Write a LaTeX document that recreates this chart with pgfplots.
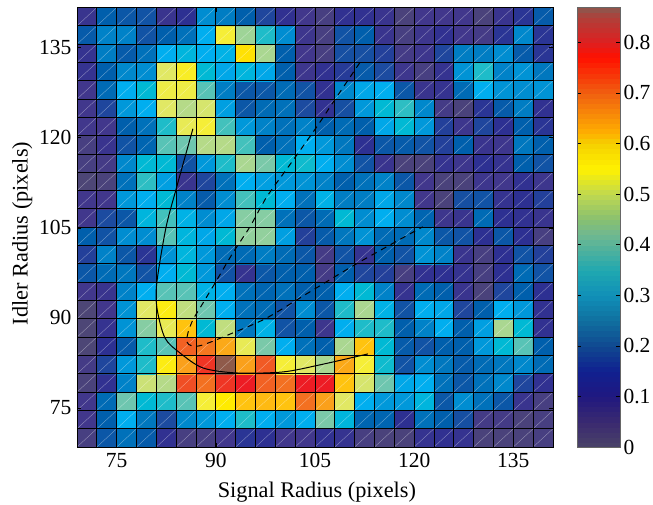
\documentclass[border=0pt]{standalone}
\usepackage{fontspec}
\setmainfont{Liberation Serif}
\usepackage{pgfplots}
\pgfplotsset{compat=1.18}
\pgfplotsset{colormap={cells}{
rgb255(0pt)=(80,74,112) rgb255(5pt)=(65,55,140) rgb255(10pt)=(45,48,146) rgb255(15pt)=(28,75,160)
rgb255(20pt)=(0,95,172) rgb255(25pt)=(0,125,195) rgb255(30pt)=(0,152,218) rgb255(33pt)=(0,174,239)
rgb255(36pt)=(0,185,212) rgb255(39pt)=(45,190,195) rgb255(42pt)=(110,198,175) rgb255(47pt)=(170,215,145)
rgb255(52pt)=(225,232,100) rgb255(55pt)=(245,238,55) rgb255(58pt)=(255,235,0) rgb255(62pt)=(255,195,15)
rgb255(66pt)=(250,160,27) rgb255(71pt)=(244,120,32) rgb255(75pt)=(241,90,36) rgb255(80pt)=(237,28,36)
rgb255(87pt)=(143,90,74)}}
\pgfplotsset{colormap={cbar}{
rgb255(0pt)=(74,66,104) rgb255(5pt)=(58,42,112) rgb255(10pt)=(32,24,128) rgb255(15pt)=(16,32,144)
rgb255(20pt)=(16,72,144) rgb255(25pt)=(16,112,160) rgb255(30pt)=(16,144,184) rgb255(35pt)=(32,168,176)
rgb255(42pt)=(112,184,144) rgb255(45pt)=(136,192,112) rgb255(50pt)=(192,216,80) rgb255(55pt)=(255,242,0)
rgb255(60pt)=(245,208,0) rgb255(62pt)=(255,176,0) rgb255(70pt)=(240,96,16) rgb255(77pt)=(255,16,0)
rgb255(80pt)=(221,32,32) rgb255(85pt)=(176,64,58) rgb255(87pt)=(138,90,80)}}
\begin{document}
\begin{tikzpicture}[x=1pt,y=1pt]
\useasboundingbox (0,0) rectangle (653,504);
\begin{axis}[
  at={(77pt,57pt)}, anchor=south west, scale only axis,
  width=476pt, height=439.5pt,
  xmin=69, xmax=141, ymin=68.5, ymax=141.7,
  xtick={75,90,105,120,135}, ytick={75,90,105,120,135},
  tick style={black, line width=0.6pt}, tick align=inside, major tick length=4pt,
  axis line style={black, line width=1pt},
  /pgf/number format/assume math mode=true,
  tick label style={font=\fontsize{21.5}{22}\selectfont},
  xticklabel style={yshift=-3pt},
  yticklabel style={xshift=-2pt},
  xlabel={Signal Radius (pixels)}, ylabel={Idler Radius (pixels)},
  label style={font=\fontsize{22.3}{24}\selectfont},
  xlabel style={at={(axis description cs:0.504,0)}, anchor=north, yshift=-31pt},
  ylabel style={at={(axis description cs:0,0.486)}, anchor=south, yshift=41pt},
  colormap name=cells, point meta min=0, point meta max=0.87,
  axis on top,
]
\addplot[matrix plot*, mesh/cols=24, point meta=explicit]
 table[row sep=\\, header=false, meta index=0, x expr={70.5+3*mod(\coordindex,24)}, y expr={70.025+3.05*floor((\coordindex+0.5)/24)}] {
0.03\\0.18\\0.23\\0.19\\0.09\\0.03\\0.03\\0.05\\0.11\\0.10\\0.05\\0.05\\0.09\\0.08\\0.03\\0.02\\0.02\\0.08\\0.09\\0.08\\0.02\\0.02\\0.02\\0.03\\
0.05\\0.20\\0.33\\0.24\\0.15\\0.27\\0.30\\0.33\\0.38\\0.33\\0.30\\0.33\\0.43\\0.35\\0.21\\0.21\\0.10\\0.23\\0.20\\0.16\\0.04\\0.04\\0.02\\0.03\\
0.05\\0.22\\0.42\\0.36\\0.38\\0.41\\0.55\\0.58\\0.62\\0.63\\0.62\\0.72\\0.66\\0.52\\0.33\\0.30\\0.30\\0.35\\0.18\\0.28\\0.23\\0.18\\0.07\\0.03\\
0.02\\0.09\\0.26\\0.50\\0.48\\0.76\\0.72\\0.78\\0.80\\0.74\\0.72\\0.80\\0.80\\0.62\\0.51\\0.42\\0.32\\0.33\\0.23\\0.18\\0.23\\0.27\\0.14\\0.09\\
0.04\\0.14\\0.30\\0.38\\0.57\\0.66\\0.78\\0.87\\0.66\\0.75\\0.55\\0.52\\0.47\\0.65\\0.55\\0.37\\0.17\\0.28\\0.24\\0.19\\0.22\\0.24\\0.27\\0.22\\
0.01\\0.10\\0.19\\0.38\\0.41\\0.74\\0.71\\0.65\\0.53\\0.43\\0.33\\0.23\\0.20\\0.47\\0.62\\0.36\\0.19\\0.17\\0.20\\0.20\\0.30\\0.36\\0.41\\0.20\\
0.01\\0.08\\0.29\\0.44\\0.53\\0.62\\0.36\\0.49\\0.24\\0.34\\0.17\\0.20\\0.06\\0.33\\0.38\\0.38\\0.20\\0.26\\0.33\\0.20\\0.31\\0.47\\0.36\\0.09\\
0.01\\0.05\\0.29\\0.52\\0.57\\0.49\\0.42\\0.33\\0.23\\0.22\\0.17\\0.28\\0.18\\0.38\\0.47\\0.34\\0.17\\0.33\\0.32\\0.14\\0.20\\0.33\\0.30\\0.09\\
0.05\\0.07\\0.26\\0.33\\0.41\\0.41\\0.34\\0.33\\0.23\\0.21\\0.23\\0.20\\0.20\\0.33\\0.36\\0.26\\0.08\\0.22\\0.20\\0.07\\0.02\\0.14\\0.20\\0.10\\
0.18\\0.22\\0.24\\0.17\\0.33\\0.36\\0.30\\0.17\\0.08\\0.18\\0.20\\0.20\\0.04\\0.20\\0.14\\0.13\\0.03\\0.09\\0.10\\0.08\\0.03\\0.10\\0.22\\0.17\\
0.13\\0.26\\0.18\\0.11\\0.29\\0.35\\0.30\\0.22\\0.22\\0.25\\0.22\\0.18\\0.04\\0.17\\0.08\\0.20\\0.17\\0.29\\0.26\\0.07\\0.03\\0.10\\0.17\\0.13\\
0.20\\0.17\\0.28\\0.28\\0.41\\0.35\\0.32\\0.36\\0.45\\0.45\\0.31\\0.13\\0.19\\0.24\\0.29\\0.22\\0.22\\0.27\\0.18\\0.17\\0.10\\0.18\\0.10\\0.03\\
0.05\\0.15\\0.18\\0.35\\0.40\\0.34\\0.28\\0.32\\0.44\\0.44\\0.23\\0.18\\0.22\\0.36\\0.28\\0.33\\0.28\\0.21\\0.06\\0.07\\0.22\\0.10\\0.09\\0.07\\
0.05\\0.05\\0.30\\0.33\\0.36\\0.26\\0.19\\0.28\\0.40\\0.36\\0.33\\0.23\\0.34\\0.25\\0.25\\0.32\\0.27\\0.05\\0.02\\0.16\\0.17\\0.08\\0.10\\0.13\\
0.01\\0.02\\0.23\\0.39\\0.31\\0.07\\0.14\\0.23\\0.33\\0.31\\0.30\\0.29\\0.26\\0.20\\0.23\\0.26\\0.18\\0.05\\0.02\\0.02\\0.06\\0.05\\0.09\\0.06\\
0.03\\0.04\\0.27\\0.36\\0.36\\0.17\\0.30\\0.38\\0.47\\0.43\\0.36\\0.37\\0.33\\0.28\\0.17\\0.07\\0.02\\0.02\\0.08\\0.06\\0.10\\0.08\\0.20\\0.17\\
0.03\\0.07\\0.17\\0.21\\0.41\\0.42\\0.48\\0.48\\0.40\\0.20\\0.23\\0.33\\0.30\\0.24\\0.10\\0.18\\0.19\\0.17\\0.13\\0.20\\0.07\\0.06\\0.24\\0.20\\
0.05\\0.05\\0.20\\0.23\\0.38\\0.53\\0.55\\0.40\\0.30\\0.26\\0.23\\0.26\\0.20\\0.22\\0.20\\0.32\\0.36\\0.30\\0.13\\0.06\\0.14\\0.10\\0.20\\0.11\\
0.05\\0.14\\0.30\\0.33\\0.52\\0.48\\0.51\\0.31\\0.18\\0.22\\0.23\\0.15\\0.09\\0.16\\0.30\\0.36\\0.39\\0.27\\0.04\\0.02\\0.11\\0.19\\0.25\\0.09\\
0.05\\0.22\\0.33\\0.36\\0.54\\0.54\\0.41\\0.25\\0.18\\0.18\\0.22\\0.17\\0.09\\0.27\\0.32\\0.33\\0.18\\0.07\\0.08\\0.22\\0.33\\0.29\\0.28\\0.29\\
0.08\\0.20\\0.27\\0.28\\0.52\\0.56\\0.36\\0.32\\0.35\\0.32\\0.20\\0.06\\0.09\\0.12\\0.19\\0.15\\0.06\\0.03\\0.08\\0.29\\0.38\\0.26\\0.29\\0.24\\
0.08\\0.25\\0.19\\0.23\\0.33\\0.35\\0.33\\0.34\\0.59\\0.47\\0.20\\0.05\\0.03\\0.16\\0.16\\0.13\\0.04\\0.06\\0.14\\0.25\\0.25\\0.28\\0.19\\0.11\\
0.19\\0.26\\0.26\\0.17\\0.20\\0.23\\0.33\\0.55\\0.46\\0.38\\0.28\\0.06\\0.03\\0.17\\0.20\\0.07\\0.03\\0.06\\0.09\\0.05\\0.04\\0.11\\0.27\\0.11\\
0.07\\0.20\\0.18\\0.17\\0.07\\0.10\\0.28\\0.25\\0.20\\0.14\\0.09\\0.05\\0.03\\0.09\\0.09\\0.07\\0.02\\0.05\\0.05\\0.05\\0.02\\0.07\\0.11\\0.19\\
};
\pgfplotsinvokeforeach{-23,...,23}{
  \draw[white, opacity=0.45, line width=0.35pt] (axis cs:{69+3*#1},68.5) -- (axis cs:{141+3*#1},141.7);
}
\pgfplotsinvokeforeach{1,...,23}{
  \draw[black, line width=1pt] (axis cs:{69+3*#1},68.5) -- (axis cs:{69+3*#1},141.7);
  \draw[black, line width=1pt] (axis cs:69,{68.5+3.05*#1}) -- (axis cs:141,{68.5+3.05*#1});
}
\addplot[black, line width=1pt, no marks, smooth, tension=0.5] coordinates {
(86.53,121.5) (83.96,111.33) (82.45,105) (81.09,96) (81.09,91.67) (82.3,86.67) (84.57,84.17) (88.04,81.67) (93.18,80.83) (100.13,81) (105.7,82.17) (113.0,84)};
\addplot[black, line width=1pt, no marks, smooth, tension=0.5, dash pattern=on 6pt off 5pt] coordinates {
(111.77,132.5) (107.69,125.83) (105.27,121.83) (101.19,115.5) (97.71,110.17) (95.15,105.17) (92.58,100.83) (90.16,96.33) (87.89,92.17) (86.53,89.67) (85.78,87.5) (85.62,86) (86.38,85.33) (88.04,85.5) (92.58,87.5) (97.71,90) (104.21,94.33) (111.77,99.33) (121.29,105.17)};
\end{axis}
\begin{axis}[
  at={(577pt,57pt)}, anchor=south west, scale only axis,
  width=43pt, height=440pt,
  xmin=0, xmax=1, ymin=0, ymax=0.87,
  xtick=\empty, ytick={0,0.1,0.2,0.3,0.4,0.5,0.6,0.7,0.8},
  yticklabels={0,0.1,0.2,0.3,0.4,0.5,0.6,0.7,0.8},
  ytick pos=both, yticklabel pos=right, tick align=inside, major tick length=4pt,
  tick style={black, line width=0.6pt},
  tick label style={font=\fontsize{21.5}{22}\selectfont},
  /pgf/number format/assume math mode=true,
  axis line style={black!60, line width=0.7pt},
  colormap name=cbar, point meta min=0, point meta max=0.87,
  axis on top,
]
\addplot[matrix plot*, mesh/cols=2, point meta=explicit]
 table[row sep=\\, header=false, meta index=0, x expr={mod(\coordindex,2)}, y expr={0.005+0.01*floor((\coordindex+0.5)/2)}] {
0.005\\0.005\\0.015\\0.015\\0.025\\0.025\\0.035\\0.035\\0.045\\0.045\\0.055\\0.055\\0.065\\0.065\\0.075\\0.075\\0.085\\0.085\\0.095\\0.095\\
0.105\\0.105\\0.115\\0.115\\0.125\\0.125\\0.135\\0.135\\0.145\\0.145\\0.155\\0.155\\0.165\\0.165\\0.175\\0.175\\0.185\\0.185\\0.195\\0.195\\
0.205\\0.205\\0.215\\0.215\\0.225\\0.225\\0.235\\0.235\\0.245\\0.245\\0.255\\0.255\\0.265\\0.265\\0.275\\0.275\\0.285\\0.285\\0.295\\0.295\\
0.305\\0.305\\0.315\\0.315\\0.325\\0.325\\0.335\\0.335\\0.345\\0.345\\0.355\\0.355\\0.365\\0.365\\0.375\\0.375\\0.385\\0.385\\0.395\\0.395\\
0.405\\0.405\\0.415\\0.415\\0.425\\0.425\\0.435\\0.435\\0.445\\0.445\\0.455\\0.455\\0.465\\0.465\\0.475\\0.475\\0.485\\0.485\\0.495\\0.495\\
0.505\\0.505\\0.515\\0.515\\0.525\\0.525\\0.535\\0.535\\0.545\\0.545\\0.555\\0.555\\0.565\\0.565\\0.575\\0.575\\0.585\\0.585\\0.595\\0.595\\
0.605\\0.605\\0.615\\0.615\\0.625\\0.625\\0.635\\0.635\\0.645\\0.645\\0.655\\0.655\\0.665\\0.665\\0.675\\0.675\\0.685\\0.685\\0.695\\0.695\\
0.705\\0.705\\0.715\\0.715\\0.725\\0.725\\0.735\\0.735\\0.745\\0.745\\0.755\\0.755\\0.765\\0.765\\0.775\\0.775\\0.785\\0.785\\0.795\\0.795\\
0.805\\0.805\\0.815\\0.815\\0.825\\0.825\\0.835\\0.835\\0.845\\0.845\\0.855\\0.855\\0.865\\0.865\\
};
\draw[black, line width=0.8pt] (axis cs:1,0) -- (axis cs:1,0.87);
\end{axis}
\end{tikzpicture}
\end{document}
